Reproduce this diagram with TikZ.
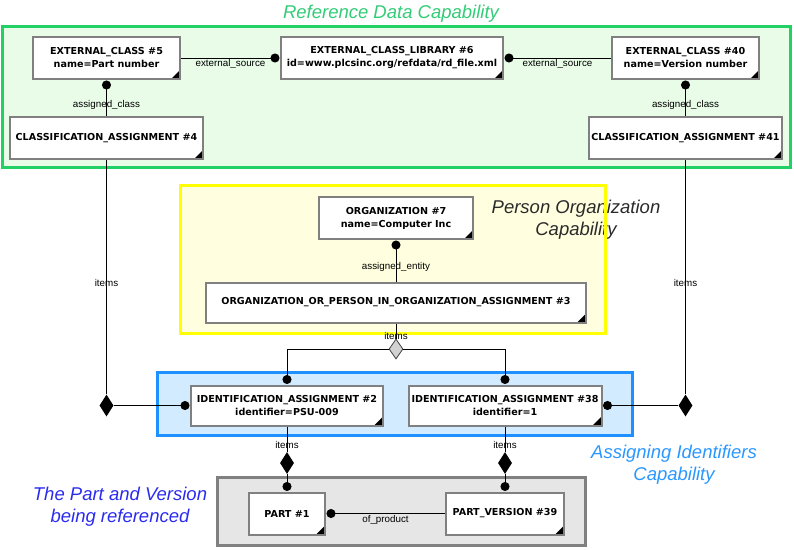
\documentclass[tikz,border=0pt]{standalone}
\usepackage{fontspec}
\setmainfont{Liberation Sans}
\newfontfamily\boxfont{DejaVu Sans}
\usetikzlibrary{shapes.geometric,arrows.meta}
\definecolor{grnB}{HTML}{22D066}
\definecolor{grnF}{HTML}{E8FCE8}
\definecolor{grnT}{HTML}{33CC77}
\definecolor{yelB}{HTML}{FFFF00}
\definecolor{yelF}{HTML}{FFFFE0}
\definecolor{bluB}{HTML}{1E90FF}
\definecolor{bluF}{HTML}{D2EBFF}
\definecolor{bluT}{HTML}{2A97FF}
\definecolor{gryB}{HTML}{808080}
\definecolor{gryF}{HTML}{E6E6E6}
\definecolor{entB}{HTML}{808080}
\definecolor{prtT}{HTML}{2B2BF0}
\definecolor{orgT}{HTML}{2A2A2A}
\begin{document}
\begin{tikzpicture}[x=1pt,y=-1pt,
  ent/.style={draw=entB, line width=2pt, fill=white, minimum height=42pt,
    inner sep=0pt, align=center, font=\boxfont\fontsize{9.6}{13}\selectfont\bfseries,
    path picture={\fill[black] (path picture bounding box.south east)
      -- ++(-9pt,0pt) -- ++(9pt,9pt) -- cycle;}},
  lbl/.style={font=\fontsize{9.8}{11}\selectfont, inner sep=1pt},
  conn/.style={line width=1pt, black},
  dotend/.style={-{Circle[length=9pt]}, shorten >=0.5pt},
  blackdia/.style={diamond, fill=black, minimum width=14pt, minimum height=22pt, inner sep=0pt},
  graydia/.style={diamond, draw=black!75, fill=gray!35, line width=0.8pt, minimum width=14pt, minimum height=20pt, inner sep=0pt},
  regtitle/.style={font=\fontsize{18.5}{22}\selectfont\itshape, align=center, inner sep=0pt},
  region/.style={line width=3pt}
]
\useasboundingbox (0,0) rectangle (794,549);

% regions
\draw[region, draw=grnB, fill=grnF] (2.5,26.5) rectangle (790,167);
\fill[yelF] (180.5,185.5) rectangle (605.5,333.5);
\node[regtitle, text=orgT] (tOrg) at (576,219.5) {Person Organization\\Capability};
\draw[region, draw=yelB] (180.5,185.5) rectangle (605.5,333.5);
\draw[region, draw=bluB, fill=bluF] (157.5,372.5) rectangle (632.5,435.5);
\draw[region, draw=gryB, fill=gryF] (217.5,477.5) rectangle (585.5,545.5);

% region titles
\node[regtitle, text=grnT] (tRef) at (391,14) {Reference Data Capability};
\node[regtitle, text=bluT] (tAss) at (674,464.5) {Assigning Identifiers\\Capability};
\node[regtitle, text=prtT] (tPrt) at (120,506.5) {The Part and Version\\being referenced};

% entities
\node[ent, minimum width=147pt] (EC5) at (106.5,58) {EXTERNAL\_CLASS \#5\\name=Part number};
\node[ent, minimum width=222pt] (LIB6) at (392,58) {EXTERNAL\_CLASS\_LIBRARY \#6\\id=www.plcsinc.org/refdata/rd\_file.xml};
\node[ent, minimum width=147pt] (EC40) at (685.5,58) {EXTERNAL\_CLASS \#40\\name=Version number};
\node[ent, minimum width=193pt] (CA4) at (106.5,138) {CLASSIFICATION\_ASSIGNMENT \#4};
\node[ent, minimum width=193pt] (CA41) at (685.5,138) {CLASSIFICATION\_ASSIGNMENT \#41};
\node[ent, minimum width=154pt] (ORG7) at (396,218) {ORGANIZATION \#7\\name=Computer Inc};
\node[ent, minimum width=380pt, minimum height=40pt] (OOP3) at (396,302.5) {ORGANIZATION\_OR\_PERSON\_IN\_ORGANIZATION\_ASSIGNMENT \#3};
\node[ent, minimum width=192pt, minimum height=40pt] (IA2) at (287,405.5) {IDENTIFICATION\_ASSIGNMENT \#2\\identifier=PSU-009};
\node[ent, minimum width=193pt, minimum height=40pt] (IA38) at (505,405.5) {IDENTIFICATION\_ASSIGNMENT \#38\\identifier=1};
\node[ent, minimum width=76pt] (PART1) at (287,513.5) {PART \#1};
\node[ent, minimum width=118pt] (PV39) at (505,513.5) {PART\_VERSION \#39};

% diamonds
\node[blackdia] (d1) at (CA4.south |- IA2.west) {};
\node[blackdia] (d2) at (CA41.south |- IA38.east) {};
\node[graydia] (gd) at (396,349) {};
\node[blackdia] (d3) at (287,463) {};
\node[blackdia] (d4) at (505,463) {};

% connectors
\draw[conn,dotend] (EC5.east) -- node[lbl,below] {external\_source} (LIB6.west);
\draw[conn,dotend] (EC40.west) -- node[lbl,below] {external\_source} (LIB6.east);
\draw[conn,dotend] (CA4.north) -- node[lbl,pos=0.3] {assigned\_class} (EC5.south);
\draw[conn,dotend] (CA41.north) -- node[lbl,pos=0.3] {assigned\_class} (EC40.south);
\draw[conn,dotend] (OOP3.north) -- node[lbl,pos=0.35] {assigned\_entity} (ORG7.south);

\draw[conn] (CA4.south) -- node[lbl,pos=0.526] {items} (d1.north);
\draw[conn,dotend] (d1.east) -- (IA2.west);
\draw[conn] (CA41.south) -- node[lbl,pos=0.526] {items} (d2.north);
\draw[conn,dotend] (d2.west) -- (IA38.east);

\draw[conn] (OOP3.south) -- node[lbl,pos=0.8] {items} (gd.north);
\draw[conn,dotend] (gd.west) -| (IA2.north);
\draw[conn,dotend] (gd.east) -| (IA38.north);

\draw[conn] (IA2.south) -- node[lbl,pos=0.72] {items} (d3.north);
\draw[conn,dotend] (d3.south) -- (PART1.north);
\draw[conn] (IA38.south) -- node[lbl,pos=0.72] {items} (d4.north);
\draw[conn,dotend] (d4.south) -- (PV39.north);

\draw[conn,dotend] (PV39.west) -- node[lbl,below] {of\_product} (PART1.east);
\end{tikzpicture}
\end{document}
